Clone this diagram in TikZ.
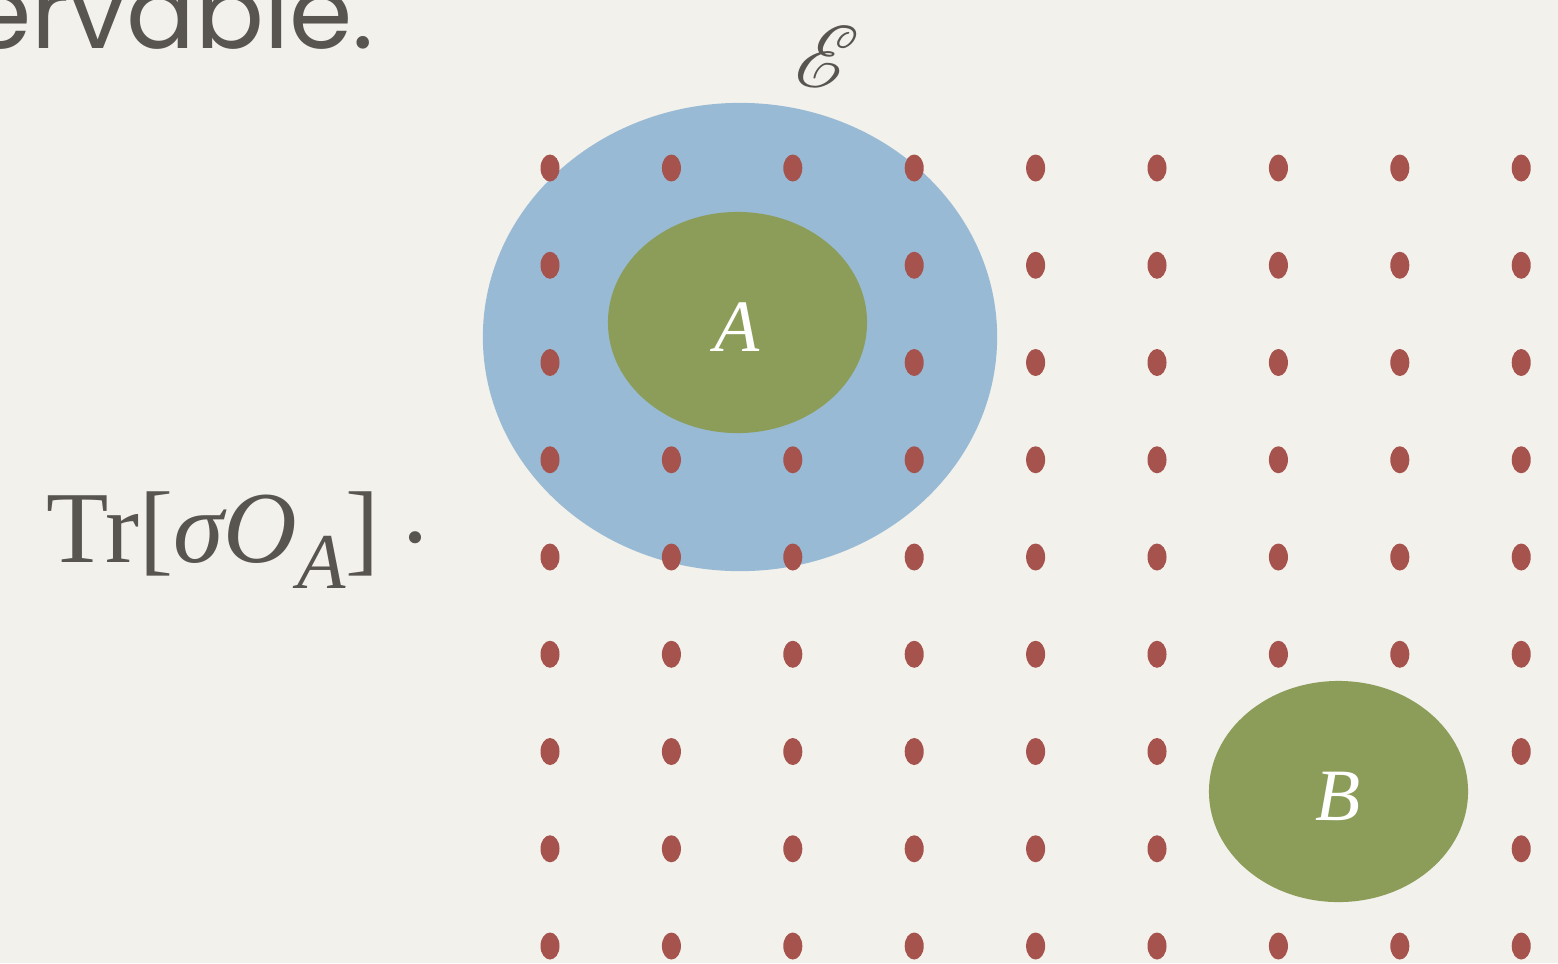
\documentclass[tikz,border=0pt]{standalone}
\usepackage{fontspec}
\usepackage{mathrsfs}
\setmainfont{Liberation Serif}
\newfontfamily\titlefont{Poppins}
\usetikzlibrary{shapes.geometric}

\definecolor{paper}{HTML}{F2F1EC}
\definecolor{ink}{HTML}{58544F}
\definecolor{envblue}{HTML}{99BAD4}
\definecolor{sysgreen}{HTML}{8C9D5A}
\definecolor{sitered}{HTML}{A6524D}

\begin{document}
\begin{tikzpicture}[
  x=0.01cm, y=-0.01cm,
  envregion/.style={ellipse, fill=envblue, inner sep=0pt, minimum width=5.14cm, minimum height=4.68cm},
  subsys/.style={ellipse, fill=sysgreen, inner sep=0pt, minimum width=2.59cm, minimum height=2.21cm,
    text=white, font=\fontsize{21}{24}\selectfont\itshape, text height=16.7pt, text depth=0pt},
  site/.style={ellipse, fill=sitered, inner sep=0pt, minimum width=0.19cm, minimum height=0.27cm},
  caption/.style={text=ink, inner sep=0pt}
]

\useasboundingbox (0,0) rectangle (1558,963);
\fill[paper] (0,0) rectangle (1558,963);

% Heading (cut off at the left)
\node[caption, anchor=base east, font=\titlefont\fontsize{29}{32}\selectfont] (head) at (375,48) {ervable.};

% Environment
\node[envregion] (env) at (740,337) {};
\node[caption, font=\fontsize{33}{36}\selectfont] (envlabel) at (827,57) {$\mathscr{E}$};

% Lattice sites
\foreach \i in {0,...,8}
  \foreach \j in {0,...,8}
    \node[site] (s\i\j) at ({550+121.4*\i},{168+97.25*\j}) {};

% Subsystems
\node[subsys] (A) at (737.5,322.5) {A};
\node[subsys] (B) at (1338.5,791.5) {B};

% Expectation value
\node[caption, anchor=base west, font=\fontsize{29}{34}\selectfont] (expval) at (46,562)
  {Tr[\textit{σO}\raisebox{-0.26cm}{\fontsize{22.5}{26}\selectfont\textit{A}}]\hspace{0.18em}\raisebox{-0.09cm}{·}};

\end{tikzpicture}
\end{document}
